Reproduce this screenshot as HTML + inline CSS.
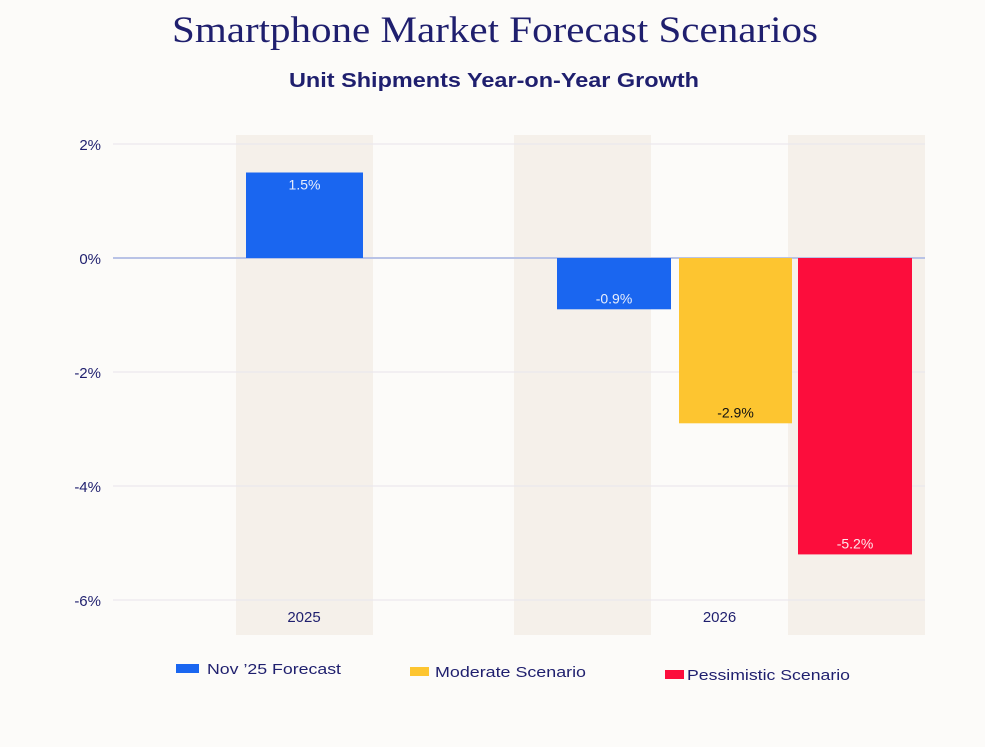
<!DOCTYPE html>
<html><head><meta charset="utf-8"><style>
html,body{margin:0;padding:0;background:#fcfbf9;}
body{width:985px;height:742px;overflow:hidden;font-family:"Liberation Sans",sans-serif;}
</style></head><body>
<svg id="chart" width="985" height="742" xmlns="http://www.w3.org/2000/svg">
<rect width="985" height="742" fill="#fcfbf9"/>
<text x="172" y="42" textLength="646" lengthAdjust="spacingAndGlyphs" font-family="Liberation Serif, serif" font-size="37" fill="#1f1f6e">Smartphone Market Forecast Scenarios</text>
<text x="289" y="87" textLength="410" lengthAdjust="spacingAndGlyphs" font-size="20" font-weight="bold" fill="#1f1f6e">Unit Shipments Year-on-Year Growth</text>
<g id="bands"></g><g id="grid"></g><g id="bars"></g><g id="labels"></g>
<g>
<rect x="176" y="664" width="23" height="9" fill="#1a66f0"/>
<text x="207" y="674" textLength="134" lengthAdjust="spacingAndGlyphs" font-size="15" fill="#1f1f6e">Nov ’25 Forecast</text>
<rect x="410" y="667" width="19" height="9" fill="#fdc530"/>
<text x="435" y="677" textLength="151" lengthAdjust="spacingAndGlyphs" font-size="15" fill="#1f1f6e">Moderate Scenario</text>
<rect x="665" y="670" width="19" height="9" fill="#fc0d3c"/>
<text x="687" y="680" textLength="163" lengthAdjust="spacingAndGlyphs" font-size="15" fill="#1f1f6e">Pessimistic Scenario</text>
</g>
</svg>
<script>
const yTicks = [2, 0, -2, -4, -6];
const tickLabels = ["2%", "0%", "-2%", "-4%", "-6%"];
const categories = ["2025", "2026"];
const barNames = ["bar-2025-forecast", "bar-2026-forecast", "bar-2026-moderate", "bar-2026-pessimistic"];
const barValues = [1.5, -0.9, -2.9, -5.2];
const barLabels = ["1.5%", "-0.9%", "-2.9%", "-5.2%"];
const barColors = ["#1a66f0", "#1a66f0", "#fdc530", "#fc0d3c"];
const labelColors = ["#e8eefc", "#e8eefc", "#111111", "#fde8ec"];

const NS = "http://www.w3.org/2000/svg";
function y(v){ return 258 - v * 57; }
const barX = [246, 557, 679, 798];
const barW = [117, 114, 113, 114];
const bandX = [236, 514, 788];
function mk(tag, attrs, parent){ const e=document.createElementNS(NS,tag); for(const k in attrs) e.setAttribute(k,attrs[k]); parent.appendChild(e); return e; }
const bands=document.getElementById('bands'), grid=document.getElementById('grid'), bars=document.getElementById('bars'), labels=document.getElementById('labels');
bandX.forEach((bx,i)=>{
  const r=mk('rect',{x:bx,y:135,width:137,height:500,fill:'#f5f0ea'},bands);
  
  
});
yTicks.forEach((t,i)=>{
  const l=mk('line',{x1:113,x2:925,y1:y(t),y2:y(t),stroke:t===0?'#b9c3e6':'#ebe8ee','stroke-width':t===0?2:1.2},grid);
  
  
  const tx=mk('text',{x:101,y:y(t)+6,'text-anchor':'end','font-size':15,fill:'#1f1f6e'},labels);
  tx.textContent=tickLabels[i];
  
  
});
barValues.forEach((v,i)=>{
  const top=Math.min(y(v),y(0)), h=Math.abs(y(v)-y(0));
  const r=mk('rect',{x:barX[i],y:top,width:barW[i],height:h,fill:barColors[i]},bars);
  
  
  const ly = v>=0 ? top+17 : y(v)-6;
  const t=mk('text',{x:barX[i]+barW[i]/2,y:ly,'text-anchor':'middle','font-size':14,fill:labelColors[i]},labels);
  t.textContent=barLabels[i];
  
  
});
const catX=[bandX[0]+68, (bandX[1]+bandX[2]+137)/2];
categories.forEach((c,i)=>{
  const t=mk('text',{x:catX[i],y:622,'text-anchor':'middle','font-size':15,fill:'#1f1f6e'},labels);
  t.textContent=c;
  
  
});
</script>
</body></html>
